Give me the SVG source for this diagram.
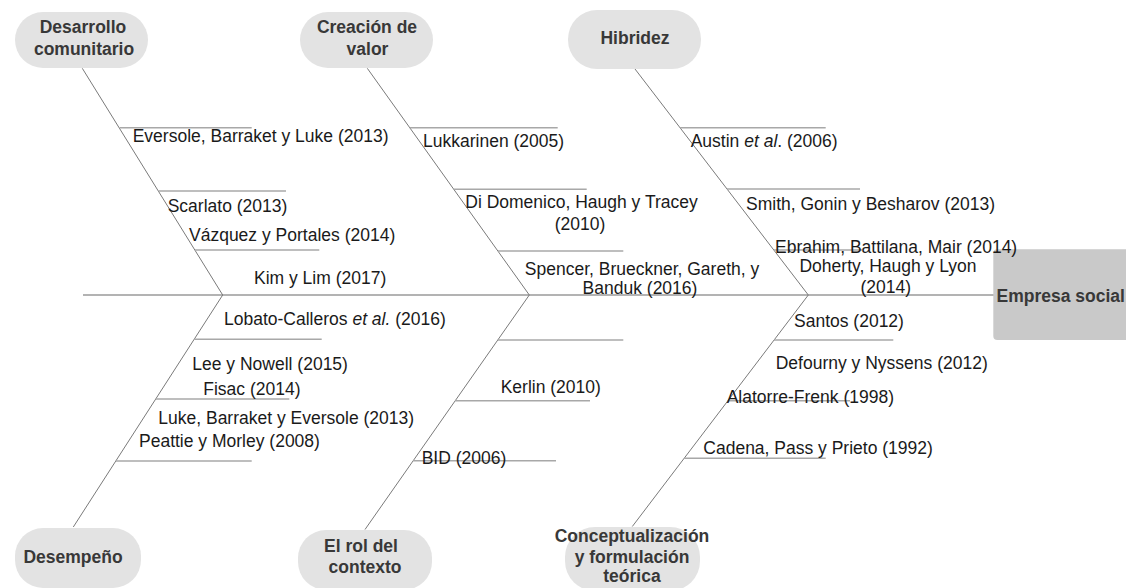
<svg xmlns="http://www.w3.org/2000/svg" width="1126" height="588" viewBox="0 0 1126 588">
  <style>
    .cat rect { fill: #e3e3e3; }
    .cat text { font-family: "Liberation Sans", Arial, sans-serif; font-size: 17.5px; font-weight: bold; fill: #383838; text-anchor: middle; }
    .head rect { fill: #c9c9c9; }
    .head text { font-family: "Liberation Sans", Arial, sans-serif; font-size: 17.5px; font-weight: bold; fill: #383838; }
    .rib { stroke: #7a7a7a; stroke-width: 1; fill: none; }
    .spine { stroke: #9a9a9a; stroke-width: 1.5; fill: none; }
    .sub { stroke: #a8a8a8; stroke-width: 1.4; fill: none; }
    .ref { font-family: "Liberation Sans", Arial, sans-serif; font-size: 17.5px; fill: #1a1a1a; }
    .mid { text-anchor: middle; }
    .it { font-style: italic; }
  </style>

  <rect width="1126" height="588" fill="#ffffff"/>

  <!-- spine, ribs and citation ticks -->
  <g id="connectors">
    <line class="spine" x1="83" y1="295" x2="994" y2="295"/>

    <line class="rib" x1="82.3" y1="68.3" x2="222.7" y2="295"/>
    <line class="rib" x1="222.7" y1="295" x2="73.3" y2="527"/>
    <line class="rib" x1="367.3" y1="68.3" x2="529.3" y2="295"/>
    <line class="rib" x1="529.3" y1="295" x2="365" y2="529.5"/>
    <line class="rib" x1="635" y1="69" x2="808.3" y2="295"/>
    <line class="rib" x1="808.3" y1="295" x2="632.3" y2="526.5"/>

    <line class="sub" x1="119.5" y1="127.7" x2="251.7" y2="127.7"/>
    <line class="sub" x1="158.5" y1="191" x2="286" y2="191"/>
    <line class="sub" x1="195" y1="250" x2="319.3" y2="250"/>
    <line class="sub" x1="194.2" y1="339.3" x2="321.7" y2="339.3"/>
    <line class="sub" x1="155.8" y1="399" x2="289.3" y2="399"/>
    <line class="sub" x1="115.8" y1="461" x2="251.7" y2="461"/>

    <line class="sub" x1="409.8" y1="127.7" x2="557.7" y2="127.7"/>
    <line class="sub" x1="454" y1="189.3" x2="586.7" y2="189.3"/>
    <line class="sub" x1="498" y1="251" x2="623.3" y2="251"/>
    <line class="sub" x1="497.8" y1="340" x2="623.3" y2="340"/>
    <line class="sub" x1="455.2" y1="400.7" x2="590" y2="400.7"/>
    <line class="sub" x1="413.2" y1="460.7" x2="556" y2="460.7"/>

    <line class="sub" x1="680" y1="127.7" x2="825.7" y2="127.7"/>
    <line class="sub" x1="727" y1="189" x2="860" y2="189"/>
    <line class="sub" x1="774" y1="250" x2="862" y2="250"/>
    <line class="sub" x1="774" y1="340" x2="893.3" y2="340"/>
    <line class="sub" x1="727.8" y1="400.7" x2="850" y2="400.7"/>
    <line class="sub" x1="684" y1="458.3" x2="825.7" y2="458.3"/>
  </g>

  <!-- category nodes -->
  <g id="desarrollo" class="cat">
    <rect x="15" y="12" width="133" height="56" rx="28"/>
    <text x="83" y="33">Desarrollo</text>
    <text x="84" y="55">comunitario</text>
  </g>
  <g id="creacion" class="cat">
    <rect x="300" y="12" width="133" height="56" rx="28"/>
    <text x="367" y="33">Creación de</text>
    <text x="367.5" y="55">valor</text>
  </g>
  <g id="hibridez" class="cat">
    <rect x="568" y="10" width="133" height="59" rx="29"/>
    <text x="635" y="44">Hibridez</text>
  </g>
  <g id="desempeno" class="cat">
    <rect x="15" y="528" width="126" height="60" rx="28"/>
    <text x="73" y="562.5">Desempeño</text>
  </g>
  <g id="contexto" class="cat">
    <rect x="298" y="530" width="134" height="60" rx="28"/>
    <text x="361" y="551.7">El rol del</text>
    <text x="365" y="573">contexto</text>
  </g>
  <g id="conceptualizacion" class="cat">
    <rect x="565" y="527" width="135" height="64" rx="30"/>
    <text x="632" y="541.7">Conceptualización</text>
    <text x="632" y="562.7">y formulación</text>
    <text x="632" y="582">teórica</text>
  </g>

  <!-- effect box -->
  <g id="empresa-social" class="head">
    <rect x="993.3" y="249.3" width="140" height="90.7" rx="4"/>
    <text x="996.5" y="302">Empresa social</text>
  </g>

  <!-- citations -->
  <g id="citas-desarrollo">
    <text class="ref" x="132.7" y="141.7">Eversole, Barraket y Luke (2013)</text>
    <text class="ref" x="167.7" y="211.7">Scarlato (2013)</text>
    <text class="ref" x="189" y="241">Vázquez y Portales (2014)</text>
    <text class="ref" x="254" y="284.3">Kim y Lim (2017)</text>
  </g>
  <g id="citas-desempeno">
    <text class="ref" x="224" y="325">Lobato-Calleros <tspan class="it">et al.</tspan> (2016)</text>
    <text class="ref" x="192.3" y="370">Lee y Nowell (2015)</text>
    <text class="ref" x="203.3" y="395">Fisac (2014)</text>
    <text class="ref" x="158.3" y="424">Luke, Barraket y Eversole (2013)</text>
    <text class="ref" x="139" y="446.7">Peattie y Morley (2008)</text>
  </g>
  <g id="citas-creacion">
    <text class="ref" x="423" y="146.7">Lukkarinen (2005)</text>
    <text class="ref mid" x="581.5" y="208.3">Di Domenico, Haugh y Tracey</text>
    <text class="ref mid" x="580" y="230">(2010)</text>
    <text class="ref mid" x="642" y="274.5">Spencer, Brueckner, Gareth, y</text>
    <text class="ref mid" x="640" y="294">Banduk (2016)</text>
  </g>
  <g id="citas-contexto">
    <text class="ref" x="500.7" y="392.7">Kerlin (2010)</text>
    <text class="ref" x="421.7" y="464">BID (2006)</text>
  </g>
  <g id="citas-hibridez">
    <text class="ref" x="690.7" y="146.7">Austin <tspan class="it">et al</tspan>. (2006)</text>
    <text class="ref" x="746" y="210">Smith, Gonin y Besharov (2013)</text>
    <text class="ref" x="775" y="252.7">Ebrahim, Battilana, Mair (2014)</text>
    <text class="ref mid" x="888" y="272.3">Doherty, Haugh y Lyon</text>
    <text class="ref mid" x="885.7" y="292.7">(2014)</text>
  </g>
  <g id="citas-conceptualizacion">
    <text class="ref" x="794" y="326.7">Santos (2012)</text>
    <text class="ref" x="775.7" y="369.3">Defourny y Nyssens (2012)</text>
    <text class="ref" x="726.7" y="402.7">Alatorre-Frenk (1998)</text>
    <text class="ref" x="703.3" y="454">Cadena, Pass y Prieto (1992)</text>
  </g>
</svg>
